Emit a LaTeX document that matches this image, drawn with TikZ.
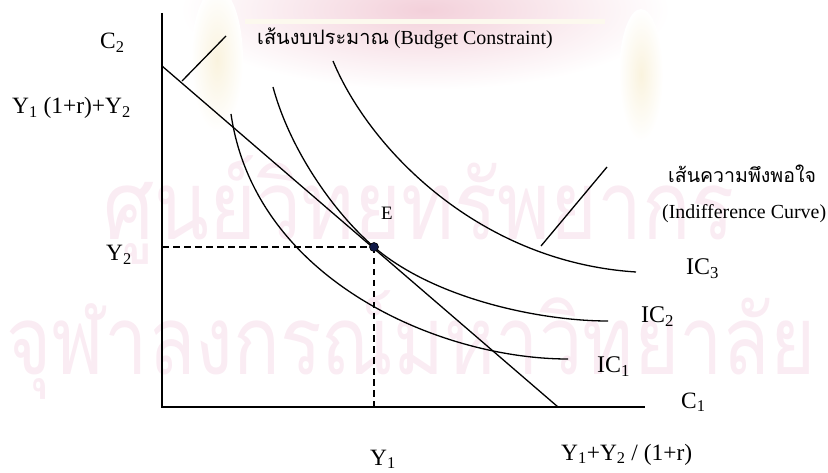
\documentclass[tikz,border=0pt]{standalone}
\usepackage{fontspec}
\setmainfont{Liberation Serif}
\newfontfamily\thaifont[Script=Thai]{Loma}
\newfontfamily\wmfonta[Script=Thai,FakeStretch=0.84]{Loma}
\newfontfamily\wmfontb[Script=Thai,FakeStretch=0.81]{Loma}
\definecolor{wmpink}{RGB}{250,236,243}
\definecolor{embdeep}{RGB}{243,208,218}
\definecolor{embyel}{RGB}{252,249,238}
\definecolor{embbeige}{RGB}{250,243,222}
\definecolor{dotnavy}{RGB}{15,25,70}
\tikzset{
  axisline/.style={line width=2bp},
  curveline/.style={line width=1.3bp},
  guideline/.style={line width=1.3bp, dash pattern=on 6.5bp off 4.5bp},
  biglbl/.style={anchor=base west, inner sep=0pt, font=\fontsize{23.5}{27}\selectfont},
  iclbl/.style={anchor=base west, inner sep=0pt, font=\fontsize{24}{28}\selectfont},
  smalllbl/.style={anchor=base west, inner sep=0pt, font=\fontsize{20}{24}\selectfont},
  wmtext/.style={anchor=base west, inner sep=0pt, text=wmpink}
}
\begin{document}
\begin{tikzpicture}[x=1bp,y=-1bp]
\useasboundingbox (0,0) rectangle (828,473);
% faint emblem watermark
\shade[inner color=embdeep, outer color=white] (425,10) ellipse [x radius=245, y radius=80];
\fill[embyel] (245,19) rectangle (605,24);
\shade[inner color=embbeige, outer color=white] (217,60) ellipse [x radius=26, y radius=72];
\shade[inner color=embbeige, outer color=white] (641,75) ellipse [x radius=22, y radius=66];
% faint text watermark
\node[wmtext, font=\wmfonta\fontsize{96}{100}\selectfont] (wm1) at (103,240) {ศูนย์วิทยทรัพยากร};
\node[wmtext, font=\wmfontb\fontsize{96}{100}\selectfont] (wm2) at (6,375) {จุฬาลงกรณ์มหาวิทยาลัย};
% coordinates
\coordinate (Ytop) at (162,13);
\coordinate (O) at (162,407);
\coordinate (Xend) at (645,407);
\coordinate (B1) at (162,66);
\coordinate (B2) at (558,407);
\coordinate (E) at (374,247);
\coordinate (Ey) at (162,247);
\coordinate (Ex) at (374,407);
\coordinate (bp1) at (182,81);
\coordinate (bp2) at (226,36);
\coordinate (ip1) at (541,246);
\coordinate (ip2) at (607,167);
% axes
\draw[axisline] (Ytop) -- (O) -- (Xend);
% guides
\draw[guideline] (Ey) -- (E);
\draw[guideline] (E) -- (Ex);
% budget line
\draw[curveline] (B1) -- (B2);
\draw[curveline] (bp1) -- (bp2);
% indifference curves
\draw[curveline] (231,114) .. controls (255,280) and (440,359) .. (568,359);
\draw[curveline] (273,87) .. controls (290,150) and (334,212.6) .. (E)
  .. controls (434,298.7) and (540,321) .. (608,321);
\draw[curveline] (333,61) .. controls (370,150) and (480,262) .. (636,272);
\draw[curveline] (ip1) -- (ip2);
% point E
\fill[dotnavy, draw=black, line width=0.6bp] (E) circle (4.5);
% labels
\node[biglbl] (c2) at (100,49) {C\textsubscript{2}};
\node[biglbl] (yint) at (12,114) {Y\textsubscript{1} (1+r)+Y\textsubscript{2}};
\node[biglbl] (y2) at (106,261) {Y\textsubscript{2}};
\node[biglbl] (y1) at (370,465) {Y\textsubscript{1}};
\node[biglbl] (xint) at (561,460) {Y\textsubscript{1}+Y\textsubscript{2} / (1+r)};
\node[biglbl] (c1) at (681,408) {C\textsubscript{1}};
\node[iclbl] (ic3) at (686,275) {IC\textsubscript{3}};
\node[iclbl] (ic2) at (641,323) {IC\textsubscript{2}};
\node[iclbl] (ic1) at (597,373) {IC\textsubscript{1}};
\node[anchor=base west, inner sep=0pt, font=\fontsize{19}{22}\selectfont] (elbl) at (381,220) {E};
\node[smalllbl] (budget) at (257,45) {{\thaifont\fontsize{20}{24}\selectfont เส้นงบประมาณ} (Budget Constraint)};
\node[smalllbl] (ithai) at (668,183) {{\thaifont\fontsize{19.6}{24}\selectfont เส้นความพึงพอใจ}};
\node[smalllbl] (ieng) at (662,219) {(Indifference Curve)};
\end{tikzpicture}
\end{document}
